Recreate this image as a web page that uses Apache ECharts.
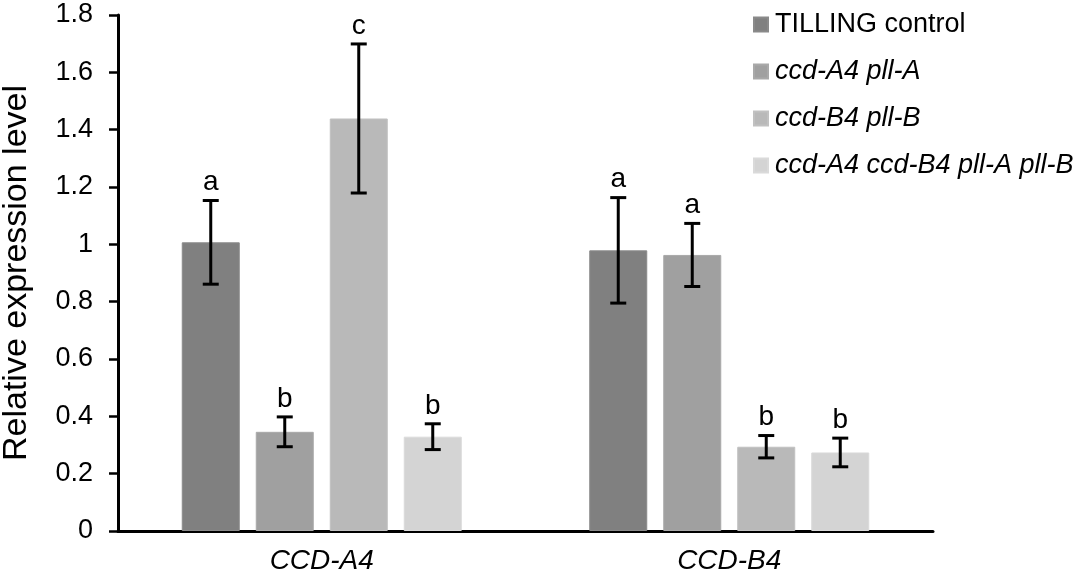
<!DOCTYPE html>
<html>
    <head>
        <meta charset="utf-8" />
        <title>Relative expression level</title>
        <script src="https://cdn.jsdelivr.net/npm/echarts@6.0.0/dist/echarts.min.js"></script>
        <style>
            html, body { margin: 0; padding: 0; background: #fff; }
        </style>
    </head>
    <body>
        <div id="main" style="width: 1084px;height: 578px;"></div>
        <script type="text/javascript">
            const categories = ['CCD-A4', 'CCD-B4'];
            const yTicks = [0, 1.8, 0.2]; // min, max, interval

            const TILLING = 'TILLING control';
            const CCD_A = 'ccd-A4 pll-A';
            const CCD_B = 'ccd-B4 pll-B';
            const DOUBLE = 'ccd-A4 ccd-B4 pll-A pll-B';

            const tillingMean = [1.007, 0.979];
            const ccdAMean = [0.346, 0.963];
            const ccdBMean = [1.439, 0.294];
            const doubleMean = [0.329, 0.274];

            const tillingErr = [0.146, 0.184];
            const ccdAErr = [0.052, 0.110];
            const ccdBErr = [0.260, 0.039];
            const doubleErr = [0.045, 0.050];

            const tillingLetter = ['a', 'a'];
            const ccdALetter = ['b', 'a'];
            const ccdBLetter = ['c', 'b'];
            const doubleLetter = ['b', 'b'];

            const FONT = '"Liberation Sans", Arial, sans-serif';
            const BAR_W = 58;
            const BAR_STEP = 74;

            const groups = [
                { name: TILLING, mean: tillingMean, err: tillingErr, letter: tillingLetter, color: '#808080', border: '#8a8a8a', italic: false },
                { name: CCD_A, mean: ccdAMean, err: ccdAErr, letter: ccdALetter, color: '#a0a0a0', border: '#a9a9a9', italic: true },
                { name: CCD_B, mean: ccdBMean, err: ccdBErr, letter: ccdBLetter, color: '#b9b9b9', border: '#c1c1c1', italic: true },
                { name: DOUBLE, mean: doubleMean, err: doubleErr, letter: doubleLetter, color: '#d4d4d4', border: '#dadada', italic: true }
            ];

            const myChart = echarts.init(document.getElementById('main'));

            const barSeries = groups.map((g) => ({
                type: 'bar',
                name: g.name,
                data: g.mean,
                barWidth: BAR_W,
                barGap: ((BAR_STEP - BAR_W) / BAR_W * 100) + '%',
                itemStyle: {
                    color: g.color,
                    borderColor: g.border,
                    borderWidth: 1
                },
                emphasis: { disabled: true }
            }));

            // error bars + significance letters, placed over each bar
            const errorSeries = groups.map((g, gi) => ({
                type: 'custom',
                name: g.name + ' error',
                z: 5,
                silent: true,
                data: g.mean.map((m, i) => [i, m, g.err[i], g.letter[i]]),
                encode: { x: 0, y: 1 },
                renderItem: (params, api) => {
                    const idx = api.value(0);
                    const mean = api.value(1);
                    const err = api.value(2);
                    const offset = (gi - 1.5) * BAR_STEP;
                    const top = api.coord([idx, mean + err]);
                    const bottom = api.coord([idx, mean - err]);
                    const x = top[0] + offset;
                    const cap = 8;
                    const lineStyle = { stroke: '#000', lineWidth: 3 };
                    return {
                        type: 'group',
                        children: [
                            { type: 'line', shape: { x1: x, y1: top[1], x2: x, y2: bottom[1] }, style: lineStyle },
                            { type: 'line', shape: { x1: x - cap, y1: top[1], x2: x + cap, y2: top[1] }, style: lineStyle },
                            { type: 'line', shape: { x1: x - cap, y1: bottom[1], x2: x + cap, y2: bottom[1] }, style: lineStyle },
                            {
                                type: 'text',
                                style: {
                                    text: g.letter[idx],
                                    x: x,
                                    y: top[1] - 4,
                                    align: 'center',
                                    verticalAlign: 'bottom',
                                    fill: '#000',
                                    fontSize: 28,
                                    fontFamily: FONT
                                }
                            }
                        ]
                    };
                }
            }));

            const option = {
                animation: false,
                textStyle: { fontFamily: FONT },
                grid: {
                    left: 118,
                    right: 151,
                    top: 15,
                    bottom: 47,
                    outerBoundsMode: 'none'
                },
                legend: {
                    orient: 'vertical',
                    left: 748,
                    top: 6,
                    icon: 'rect',
                    itemWidth: 14,
                    itemHeight: 14,
                    itemGap: 20,
                    selectedMode: false,
                    data: groups.map((g) => ({
                        name: g.name,
                        textStyle: { fontStyle: g.italic ? 'italic' : 'normal' }
                    })),
                    textStyle: {
                        color: '#000',
                        fontSize: 27,
                        fontFamily: FONT,
                        padding: [0, 0, 0, 2]
                    }
                },
                xAxis: {
                    type: 'category',
                    data: categories,
                    axisLine: { lineStyle: { color: '#000', width: 3 } },
                    axisTick: { show: false },
                    axisLabel: {
                        color: '#000',
                        fontSize: 28,
                        fontStyle: 'italic',
                        fontFamily: FONT,
                        margin: 16
                    }
                },
                yAxis: {
                    type: 'value',
                    min: yTicks[0],
                    max: yTicks[1],
                    interval: yTicks[2],
                    name: 'Relative expression level',
                    nameLocation: 'middle',
                    nameGap: 84,
                    nameTextStyle: {
                        color: '#000',
                        fontSize: 34,
                        fontFamily: FONT
                    },
                    splitLine: { show: false },
                    axisLine: { show: true, lineStyle: { color: '#000', width: 3 } },
                    axisTick: { show: true, length: 9, lineStyle: { color: '#000', width: 2.5 } },
                    axisLabel: {
                        color: '#000',
                        fontSize: 27,
                        fontFamily: FONT,
                        margin: 25
                    }
                },
                series: barSeries.concat(errorSeries)
            };
            myChart.setOption(option);
        </script>
    </body>
</html>
